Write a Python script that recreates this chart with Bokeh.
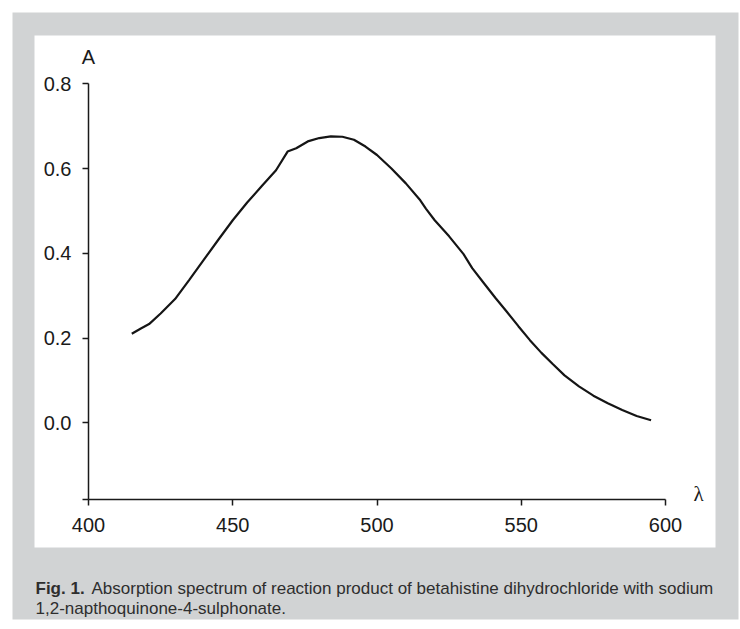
from bokeh.plotting import figure
from bokeh.models import Range1d, FixedTicker, Label, BoxAnnotation, CustomJSTickFormatter
from bokeh.embed import file_html
from bokeh.resources import INLINE

# ---- data ----
wavelength = [415, 418, 421, 425, 430, 435, 440, 445, 450, 455, 460, 465, 469, 472, 476,
              480, 484, 488, 492, 496, 500, 505, 510, 515, 517, 520, 525, 530, 533, 537,
              541, 545, 549, 553, 557, 561, 565, 570, 575, 580, 585, 590, 595]
absorbance = [0.210, 0.222, 0.233, 0.258, 0.292, 0.338, 0.385, 0.432, 0.478, 0.520, 0.558,
              0.596, 0.640, 0.648, 0.664, 0.672, 0.676, 0.675, 0.668, 0.652, 0.632, 0.600,
              0.565, 0.525, 0.505, 0.478, 0.440, 0.398, 0.365, 0.330, 0.295, 0.262, 0.228,
              0.195, 0.165, 0.138, 0.112, 0.086, 0.064, 0.046, 0.030, 0.016, 0.006]
x_ticks = [400, 450, 500, 550, 600]
y_ticks = [0.0, 0.2, 0.4, 0.6, 0.8]
y_label = "A"
x_label = "λ"
caption_bold = "Fig. 1."
caption_line1 = "Absorption spectrum of reaction product of betahistine dihydrochloride with sodium"
caption_line2 = "1,2-napthoquinone-4-sulphonate."

# ---- layout (canvas pixels): the plot frame covers the whole canvas ----
W, H = 740, 629
AX_L, AX_R = 88, 665      # x = 400 .. 600
AX_T, AX_0, AX_B = 83.3, 422.3, 499   # y = 0.8, 0.0, axis line
X0, X1 = 400, 600
Y_TOP = 0.8
kx = (X1 - X0) / (AX_R - AX_L)        # data per px
ky = Y_TOP / (AX_0 - AX_T)
Y_AXIS = -(AX_B - AX_0) * ky          # data value where the x axis lies

x_range = Range1d(X0 - AX_L * kx, X1 + (W - AX_R) * kx)
y_range = Range1d(Y_AXIS - (H - AX_B) * ky, Y_TOP + AX_T * ky)

p = figure(width=W, height=H, output_backend="svg", toolbar_location=None,
           x_range=x_range, y_range=y_range,
           min_border_left=0, min_border_right=0, min_border_top=0, min_border_bottom=0,
           border_fill_color="white", background_fill_color="white",
           outline_line_color=None)
p.grid.visible = False

def cbox(l, r, t, b, color):
    p.add_layout(BoxAnnotation(left=l, right=r, top=t, bottom=b,
                               left_units="canvas", right_units="canvas",
                               top_units="canvas", bottom_units="canvas",
                               fill_color=color, fill_alpha=1, line_color=None, level="underlay"))

cbox(12, 738, 12, 619, "#d1d3d4")
cbox(34, 715, 35, 547, "white")

p.line(wavelength, absorbance, line_color="#151515", line_width=2.2)

TICK_FONT = "Liberation Sans"
for ax in (p.xaxis[0], p.yaxis[0]):
    ax.axis_line_color = "#1a1a1a"
    ax.axis_line_width = 1.5
    ax.major_tick_line_color = "#1a1a1a"
    ax.major_tick_line_width = 1.5
    ax.major_tick_in = 0
    ax.major_tick_out = 6
    ax.minor_tick_line_color = None
    ax.major_label_text_font = TICK_FONT
    ax.major_label_text_font_size = "20px"
    ax.major_label_text_color = "#1a1a1a"

p.xaxis.fixed_location = Y_AXIS
p.xaxis.bounds = (X0, X1)
p.xaxis.ticker = FixedTicker(ticks=x_ticks, minor_ticks=[])
p.xaxis.major_label_standoff = 12

p.yaxis.fixed_location = X0
p.yaxis.bounds = (Y_AXIS, Y_TOP)
p.yaxis.ticker = FixedTicker(ticks=[Y_AXIS] + y_ticks, minor_ticks=[])
p.yaxis.formatter = CustomJSTickFormatter(code="return tick < -0.01 ? '' : tick.toFixed(1)")
p.yaxis.major_label_standoff = 11

def canvas_label(x, y, text, **kw):
    p.add_layout(Label(x=x, y=y, x_units="canvas", y_units="canvas", text=text,
                       text_baseline="middle", **kw))

canvas_label(88, 56, y_label, text_align="center",
             text_font=TICK_FONT, text_font_size="20px", text_color="#1a1a1a")
canvas_label(698, 493, x_label, text_align="center",
             text_font="Liberation Serif", text_font_size="21px", text_color="#1a1a1a")

CAP_FONT = "Liberation Sans"
canvas_label(35, 588, caption_bold, text_align="left",
             text_font=CAP_FONT, text_font_style="bold", text_font_size="17px", text_color="#2e2e2e")
canvas_label(91, 588, caption_line1, text_align="left",
             text_font=CAP_FONT, text_font_size="17px", text_color="#2e2e2e")
canvas_label(35, 608, caption_line2, text_align="left",
             text_font=CAP_FONT, text_font_size="17px", text_color="#2e2e2e")

open("out.html", "w").write(file_html(p, INLINE))
